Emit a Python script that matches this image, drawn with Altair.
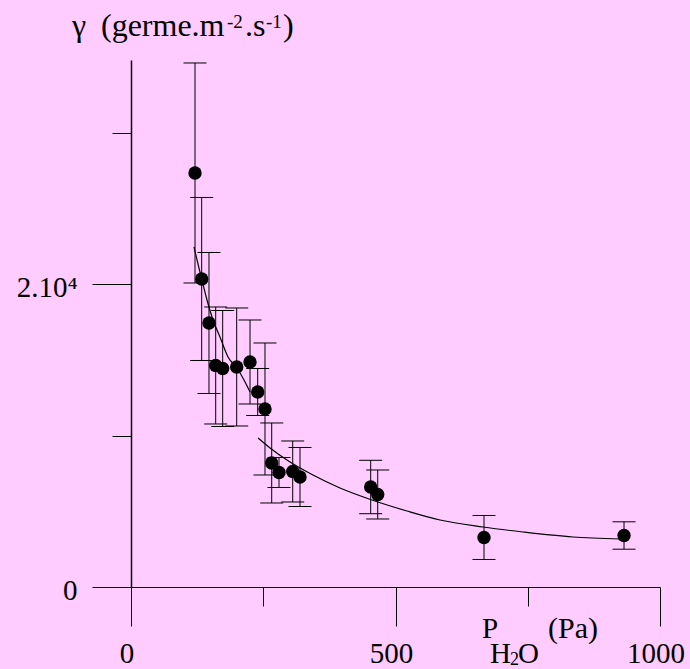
import altair as alt
import pandas as pd

# ---- data ----
p_h2o = [121.0, 133.6, 147.4, 160.1, 173.3, 199.8, 225.0, 239.5, 253.3, 266.0,
         279.8, 305.7, 319.5, 453.1, 466.4, 667.3, 932.0]
gamma = [27363, 20357, 17449, 14640, 14441, 14541, 14871, 12888, 11765, 8196,
         7568, 7634, 7270, 6609, 6114, 3272, 3404]
gamma_err = [7270, 5387, 4660, 3866, 3833, 3900, 2776, 1553, 4362, 2644,
             991, 2016, 1950, 1765, 1619, 1454, 905]

fit1_x = [119.1, 124.8, 130.4, 143.7, 155.0, 168.2, 183.4, 200.4, 213.6, 225.0]
fit1_y = [22472, 21613, 20820, 18969, 17647, 16523, 15202, 14475, 13681, 12888]
fit2_x = [240.1, 262.8, 300.6, 344.0, 395.1, 455.6, 521.7, 584.1, 665.4, 741.0, 835.5, 924.4]
fit2_y = [9848, 9187, 8262, 7403, 6543, 5750, 5023, 4428, 3966, 3635, 3305, 3173]

x_major = [0, 500, 1000]
x_minor = [250, 750]
y_major = [0, 20000]
y_minor = [10000, 30000]

FONT = "Liberation Serif"
BG = "#FFCCFF"

df = pd.DataFrame({"x": p_h2o, "y": gamma, "err": gamma_err})
df["lo"] = df["y"] - df["err"]
df["hi"] = df["y"] + df["err"]

fit = pd.DataFrame({
    "x": fit1_x + fit2_x,
    "y": fit1_y + fit2_y,
    "seg": ["a"] * len(fit1_x) + ["b"] * len(fit2_x),
})

xs = alt.Scale(domain=[0, 1000], nice=False, zero=False)
ys = alt.Scale(domain=[0, 34830], nice=False, zero=False)

axis_x_major = alt.Axis(
    orient="bottom", values=x_major, tickSize=39, tickColor="black", tickWidth=1,
    domain=True, domainColor="black", domainWidth=1.2, grid=False, title=None,
    labelExpr="datum.value == 0 ? '0' : datum.value == 500 ? '500' : '1000'",
    labelFont=FONT, labelFontSize=29, labelColor="black", labelPadding=13,
    labelOffset=-4.5, labelFlush=False, labelOverlap=False, labelBound=False,
    labelBaseline="top",
)
axis_x_minor = alt.Axis(
    orient="bottom", values=x_minor, tickSize=19, tickColor="black", tickWidth=1,
    domain=False, grid=False, title=None, labels=False,
)
axis_y_major = alt.Axis(
    orient="left", values=y_major, tickSize=39, tickColor="black", tickWidth=1,
    domain=True, domainColor="black", domainWidth=1.5, grid=False, title=None,
    labelExpr="datum.value == 0 ? '0' : '2.10\u2074'",
    labelFont=FONT, labelFontSize=29, labelColor="black", labelPadding=15,
    labelOffset=3, labelFlush=False, labelOverlap=False, labelBound=False,
)
axis_y_minor = alt.Axis(
    orient="left", values=y_minor, tickSize=19, tickColor="black", tickWidth=1,
    domain=False, grid=False, title=None, labels=False,
)

bars = alt.Chart(df).mark_rule(color="black", strokeWidth=1).encode(
    x=alt.X("x:Q", scale=xs, axis=axis_x_major),
    y=alt.Y("lo:Q", scale=ys, axis=axis_y_major),
    y2="hi:Q",
)
caps_lo = alt.Chart(df).mark_rule(color="black", strokeWidth=1, xOffset=-11.5, x2Offset=11.5).encode(
    x=alt.X("x:Q", scale=xs, axis=None), x2="x:Q",
    y=alt.Y("lo:Q", scale=ys, axis=None),
)
caps_hi = alt.Chart(df).mark_rule(color="black", strokeWidth=1, xOffset=-11.5, x2Offset=11.5).encode(
    x=alt.X("x:Q", scale=xs, axis=None), x2="x:Q",
    y=alt.Y("hi:Q", scale=ys, axis=None),
)
curve = alt.Chart(fit).mark_line(color="black", strokeWidth=1.2, interpolate="monotone").encode(
    x=alt.X("x:Q", scale=xs, axis=None),
    y=alt.Y("y:Q", scale=ys, axis=None),
    detail="seg:N",
)
points = alt.Chart(df).mark_circle(size=180, color="black", opacity=1).encode(
    x=alt.X("x:Q", scale=xs, axis=axis_x_minor),
    y=alt.Y("y:Q", scale=ys, axis=axis_y_minor),
)


def label(txt, x, y, size):
    # x, y in pixels relative to the plot origin
    return alt.Chart(pd.DataFrame({"t": [txt]})).mark_text(
        align="left", baseline="alphabetic", font=FONT, fontSize=size, color="black"
    ).encode(text="t:N", x=alt.value(x), y=alt.value(y))


texts = [
    label("\u03b3", -59, -24, 32),
    label("(germe.m", -30, -24, 32),
    label("-2", 96, -32, 19),
    label(".s", 114, -24, 32),
    label("-1", 135, -32, 19),
    label(")", 152, -24, 32),
    label("P", 351, 578, 29),
    label("H", 359, 603, 29),
    label("2", 379, 605, 18),
    label("O", 387, 603, 29),
    label("(Pa)", 417, 578, 30),
]

chart = alt.layer(bars, caps_lo, caps_hi, curve, points, *texts).resolve_axis(
    x="independent", y="independent"
).properties(
    width=529, height=527,
    autosize=alt.AutoSizeParams(type="none"),
    padding={"left": 131, "top": 60, "right": 30, "bottom": 82},
    background=BG,
).configure_view(stroke=None)

chart.save("out.html", embed_options={"renderer": "svg", "actions": False})
